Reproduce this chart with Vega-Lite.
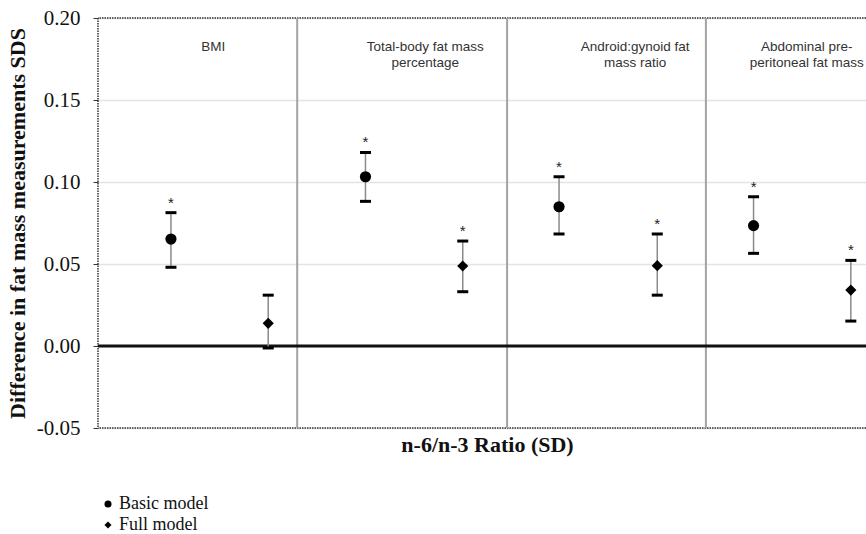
{
  "$schema": "https://vega.github.io/schema/vega-lite/v6.json",
  "width": 768,
  "height": 410,
  "autosize": {"type": "none"},
  "padding": {"left": 98, "top": 18, "right": 0, "bottom": 106},
  "background": "white",
  "config": {
    "view": {"stroke": null},
    "font": "Liberation Serif"
  },
  "datasets": {
    "est": [
      {"outcome": "BMI", "model": "Basic model", "pos": 1.0, "est": 0.0652, "lo": 0.048, "hi": 0.0813, "sig": "*"},
      {"outcome": "BMI", "model": "Full model", "pos": 2.0, "est": 0.0138, "lo": -0.0012, "hi": 0.031, "sig": ""},
      {"outcome": "Total-body fat mass percentage", "model": "Basic model", "pos": 3.0, "est": 0.1032, "lo": 0.0882, "hi": 0.118, "sig": "*"},
      {"outcome": "Total-body fat mass percentage", "model": "Full model", "pos": 4.0, "est": 0.0488, "lo": 0.0331, "hi": 0.064, "sig": "*"},
      {"outcome": "Android:gynoid fat mass ratio", "model": "Basic model", "pos": 4.99, "est": 0.0849, "lo": 0.0683, "hi": 0.1032, "sig": "*"},
      {"outcome": "Android:gynoid fat mass ratio", "model": "Full model", "pos": 6.0, "est": 0.049, "lo": 0.031, "hi": 0.0683, "sig": "*"},
      {"outcome": "Abdominal preperitoneal fat mass", "model": "Basic model", "pos": 6.99, "est": 0.0734, "lo": 0.0565, "hi": 0.091, "sig": "*"},
      {"outcome": "Abdominal preperitoneal fat mass", "model": "Full model", "pos": 7.99, "est": 0.0341, "lo": 0.0152, "hi": 0.0522, "sig": "*"}
    ],
    "panels": [
      {"label": ["BMI"], "pos": 1.435, "y": 0.1823},
      {"label": ["Total-body fat mass", "percentage"], "pos": 3.614, "y": 0.1823},
      {"label": ["Android:gynoid fat", "mass ratio"], "pos": 5.772, "y": 0.1823},
      {"label": ["Abdominal pre-", "peritoneal fat mass"], "pos": 7.536, "y": 0.1823}
    ],
    "seps": [{"pos": 2.298}, {"pos": 4.456}, {"pos": 6.5}],
    "hborder": [{"y": 0.2}, {"y": -0.05}],
    "vborder": [{"pos": 0.25}],
    "zero": [{"y": 0}]
  },
  "layer": [
    {
      "data": {"name": "hborder"},
      "mark": {"type": "rule", "color": "#333333", "strokeWidth": 1.5, "strokeDash": [1.5, 1]},
      "encoding": {
        "y": {
          "field": "y", "type": "quantitative",
          "scale": {"domain": [-0.05, 0.2], "nice": false, "zero": false},
          "axis": {
            "values": [-0.05, 0, 0.05, 0.1, 0.15, 0.2],
            "labelExpr": "replace(format(datum.value, '.2f'), '\u2212', '-')",
            "labelFont": "Liberation Serif", "labelFontSize": 21, "labelColor": "#111111",
            "labelPadding": 13, "tickSize": 5, "tickColor": "#333333", "domain": false,
            "grid": true, "gridColor": "#e4e4e4", "gridWidth": 1.5,
            "title": "Difference in fat mass measurements SDS",
            "titleFont": "Liberation Serif", "titleFontSize": 22, "titleFontWeight": "bold",
            "titleColor": "#111111", "titlePadding": 7
          }
        }
      }
    },
    {
      "data": {"name": "vborder"},
      "mark": {"type": "rule", "color": "#333333", "strokeWidth": 1.5, "strokeDash": [1.5, 1]},
      "encoding": {
        "x": {
          "field": "pos", "type": "quantitative",
          "scale": {"domain": [0.25, 8.146], "nice": false, "zero": false},
          "axis": {
            "labels": false, "ticks": false, "domain": false, "grid": false,
            "title": "n-6/n-3 Ratio (SD)",
            "titleFont": "Liberation Serif", "titleFontSize": 22, "titleFontWeight": "bold",
            "titleColor": "#111111", "titlePadding": 6, "titleX": 389, "titleAlign": "center"
          }
        }
      }
    },
    {
      "data": {"name": "seps"},
      "mark": {"type": "rule", "color": "#a3a3a3", "strokeWidth": 2},
      "encoding": {"x": {"field": "pos", "type": "quantitative"}}
    },
    {
      "data": {"name": "zero"},
      "mark": {"type": "rule", "color": "#111111", "strokeWidth": 3},
      "encoding": {"y": {"field": "y", "type": "quantitative"}}
    },
    {
      "data": {"name": "est"},
      "mark": {"type": "rule", "color": "#8a8a8a", "strokeWidth": 1.5},
      "encoding": {
        "x": {"field": "pos", "type": "quantitative"},
        "y": {"field": "lo", "type": "quantitative"},
        "y2": {"field": "hi"}
      }
    },
    {
      "data": {"name": "est"},
      "mark": {"type": "tick", "orient": "horizontal", "color": "#000000", "opacity": 1, "size": 11, "thickness": 3},
      "encoding": {
        "x": {"field": "pos", "type": "quantitative"},
        "y": {"field": "lo", "type": "quantitative"}
      }
    },
    {
      "data": {"name": "est"},
      "mark": {"type": "tick", "orient": "horizontal", "color": "#000000", "opacity": 1, "size": 11, "thickness": 3},
      "encoding": {
        "x": {"field": "pos", "type": "quantitative"},
        "y": {"field": "hi", "type": "quantitative"}
      }
    },
    {
      "data": {"name": "est"},
      "mark": {"type": "text", "font": "Liberation Sans", "fontSize": 15, "color": "#222222", "baseline": "alphabetic", "dy": -5},
      "encoding": {
        "x": {"field": "pos", "type": "quantitative"},
        "y": {"field": "hi", "type": "quantitative"},
        "text": {"field": "sig"}
      }
    },
    {
      "data": {"name": "est"},
      "mark": {"type": "point", "filled": true, "opacity": 1, "color": "#000000", "size": 125},
      "encoding": {
        "x": {"field": "pos", "type": "quantitative"},
        "y": {"field": "est", "type": "quantitative"},
        "shape": {
          "field": "model", "type": "nominal",
          "scale": {"domain": ["Basic model", "Full model"], "range": ["circle", "diamond"]},
          "legend": {
            "title": null, "orient": "none", "legendX": 1, "legendY": 477, "padding": 0,
            "labelFont": "Liberation Serif", "labelFontSize": 18, "labelColor": "#111111",
            "symbolFillColor": "#000000", "symbolStrokeColor": "#000000", "symbolSize": 50,
            "symbolOpacity": 1, "rowPadding": 3, "labelOffset": 2
          }
        }
      }
    },
    {
      "data": {"name": "panels"},
      "mark": {"type": "text", "font": "Liberation Sans", "fontSize": 13.5, "color": "#333333", "baseline": "middle", "lineHeight": 16},
      "encoding": {
        "x": {"field": "pos", "type": "quantitative"},
        "y": {"field": "y", "type": "quantitative"},
        "text": {"field": "label"}
      }
    }
  ]
}
